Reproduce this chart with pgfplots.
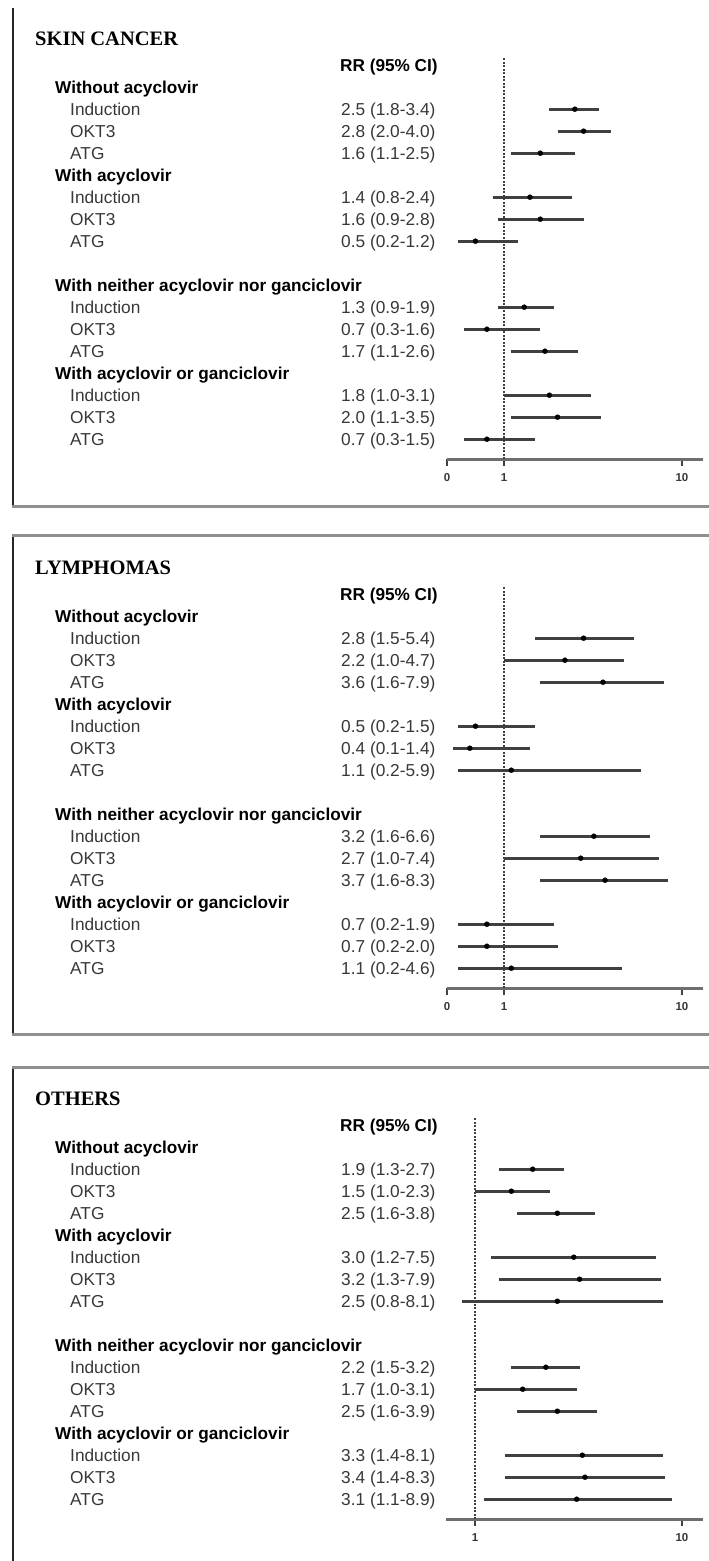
\documentclass[border=0pt]{standalone}
\usepackage{fontspec}
\setmainfont{Liberation Sans}
\newfontfamily\titlefont{Liberation Serif}
\usepackage{pgfplots}
\pgfplotsset{compat=1.18}

\definecolor{cibar}{HTML}{404040}
\definecolor{axgray}{HTML}{6E6E6E}
\definecolor{framegray}{HTML}{8F8F8F}
\definecolor{txt}{HTML}{383838}

% linear from 0 to 1, log from 1 up
\pgfplotsset{
  forest/.style={
    anchor=south west, clip=false,
    x coord trafo/.code={\pgfmathparse{0.32*(min(##1,1)-1)+ln(max(##1,1))/ln(10)}},
    y=22pt, ymin=0.1, ymax=18.36,
    enlargelimits=false,
    axis x line=bottom, axis y line=none,
    every outer x axis line/.append style={draw=axgray, line width=3pt, -},
    x axis line style={draw=axgray, line width=3pt, -},
    tick align=outside, major tick length=7pt,
    xtick style={draw=axgray!60!black, line width=1.4pt},
    xticklabel style={font=\fontsize{11.5}{13}\selectfont\bfseries, text=txt, yshift=-4pt},
  },
  ci/.style={draw=cibar, line width=2.7pt, no marks},
  rr/.style={only marks, mark=*, mark size=2.5pt, black},
  ref/.style={draw=black!75, line width=1.2pt, dash pattern=on 2pt off 1.5pt, no marks},
}

\begin{document}
\begin{tikzpicture}
\begin{scope}[x=1pt,y=-1pt]
\useasboundingbox (0,0) rectangle (709,1561);
\tikzset{
  ttl/.style={anchor=base west, inner sep=0pt, font=\titlefont\bfseries\fontsize{20.5}{24}\selectfont},
  hd/.style={anchor=base west, inner sep=0pt, font=\bfseries\fontsize{17.2}{20}\selectfont},
  it/.style={anchor=base west, inner sep=0pt, text=txt, font=\fontsize{17.3}{20}\selectfont},
}
% panel frames
\draw[black!85, line width=1.4pt] (13,8) -- (13,507);
\draw[framegray, line width=3pt] (12.3,506) -- (709,506);
\draw[black!85, line width=1.4pt] (13,535) -- (13,1035);
\draw[framegray, line width=3pt] (12.3,535.5) -- (709,535.5);
\draw[framegray, line width=3pt] (12.3,1034) -- (709,1034);
\draw[black!85, line width=1.4pt] (13,1067) -- (13,1561);
\draw[framegray, line width=3pt] (12.3,1067.5) -- (709,1067.5);

\foreach \oy/\tt in {0/SKIN CANCER, 529/LYMPHOMAS, 1060/OTHERS} {
  \node[ttl] at (35,45+\oy) {\tt};
  \node[hd] at (340,71+\oy) {RR (95\% CI)};
  \foreach \t/\p in {Without acyclovir/87, With acyclovir/175,
      With neither acyclovir nor ganciclovir/285, With acyclovir or ganciclovir/373}
    \node[hd] at (55,\p+6+\oy) {\t};
  \foreach \p in {109,197,307,395} {
    \node[it] at (70,\p+6+\oy) {Induction};
    \node[it] at (70,\p+28+\oy) {OKT3};
    \node[it] at (70,\p+50+\oy) {ATG};
  }
}
% RR (95% CI) columns
\foreach \p/\v in {109/2.5 (1.8-3.4), 131/2.8 (2.0-4.0), 153/1.6 (1.1-2.5),
    197/1.4 (0.8-2.4), 219/1.6 (0.9-2.8), 241/0.5 (0.2-1.2),
    307/1.3 (0.9-1.9), 329/0.7 (0.3-1.6), 351/1.7 (1.1-2.6),
    395/1.8 (1.0-3.1), 417/2.0 (1.1-3.5), 439/0.7 (0.3-1.5)}
  \node[it] at (341,\p+6) {\v};
\foreach \p/\v in {109/2.8 (1.5-5.4), 131/2.2 (1.0-4.7), 153/3.6 (1.6-7.9),
    197/0.5 (0.2-1.5), 219/0.4 (0.1-1.4), 241/1.1 (0.2-5.9),
    307/3.2 (1.6-6.6), 329/2.7 (1.0-7.4), 351/3.7 (1.6-8.3),
    395/0.7 (0.2-1.9), 417/0.7 (0.2-2.0), 439/1.1 (0.2-4.6)}
  \node[it] at (341,\p+6+529) {\v};
\foreach \p/\v in {109/1.9 (1.3-2.7), 131/1.5 (1.0-2.3), 153/2.5 (1.6-3.8),
    197/3.0 (1.2-7.5), 219/3.2 (1.3-7.9), 241/2.5 (0.8-8.1),
    307/2.2 (1.5-3.2), 329/1.7 (1.0-3.1), 351/2.5 (1.6-3.9),
    395/3.3 (1.4-8.1), 417/3.4 (1.4-8.3), 439/3.1 (1.1-8.9)}
  \node[it] at (341,\p+6+1060) {\v};
\end{scope}

% SKIN CANCER
\begin{axis}[forest, at={(447pt,-459pt)}, x=178pt, xmin=0, xmax=13.1,
  xtick={0,1,10}, xticklabels={0,1,10}]
\addplot[ref] coordinates {(1,0.1) (1,18.36)};
\addplot[ci] coordinates {(1.8,16) (3.4,16)};
\addplot[ci] coordinates {(2.0,15) (4.0,15)};
\addplot[ci] coordinates {(1.1,14) (2.5,14)};
\addplot[ci] coordinates {(0.8,12) (2.4,12)};
\addplot[ci] coordinates {(0.9,11) (2.8,11)};
\addplot[ci] coordinates {(0.2,10) (1.2,10)};
\addplot[ci] coordinates {(0.9,7) (1.9,7)};
\addplot[ci] coordinates {(0.3,6) (1.6,6)};
\addplot[ci] coordinates {(1.1,5) (2.6,5)};
\addplot[ci] coordinates {(1.0,3) (3.1,3)};
\addplot[ci] coordinates {(1.1,2) (3.5,2)};
\addplot[ci] coordinates {(0.3,1) (1.5,1)};
\addplot[rr] coordinates {(2.5,16) (2.8,15) (1.6,14) (1.4,12) (1.6,11) (0.5,10)
  (1.3,7) (0.7,6) (1.7,5) (1.8,3) (2.0,2) (0.7,1)};
\end{axis}

% LYMPHOMAS
\begin{axis}[forest, at={(447pt,-988pt)}, x=178pt, xmin=0, xmax=13.1,
  xtick={0,1,10}, xticklabels={0,1,10}]
\addplot[ref] coordinates {(1,0.1) (1,18.36)};
\addplot[ci] coordinates {(1.5,16) (5.4,16)};
\addplot[ci] coordinates {(1.0,15) (4.7,15)};
\addplot[ci] coordinates {(1.6,14) (7.9,14)};
\addplot[ci] coordinates {(0.2,12) (1.5,12)};
\addplot[ci] coordinates {(0.1,11) (1.4,11)};
\addplot[ci] coordinates {(0.2,10) (5.9,10)};
\addplot[ci] coordinates {(1.6,7) (6.6,7)};
\addplot[ci] coordinates {(1.0,6) (7.4,6)};
\addplot[ci] coordinates {(1.6,5) (8.3,5)};
\addplot[ci] coordinates {(0.2,3) (1.9,3)};
\addplot[ci] coordinates {(0.2,2) (2.0,2)};
\addplot[ci] coordinates {(0.2,1) (4.6,1)};
\addplot[rr] coordinates {(2.8,16) (2.2,15) (3.6,14) (0.5,12) (0.4,11) (1.1,10)
  (3.2,7) (2.7,6) (3.7,5) (0.7,3) (0.7,2) (1.1,1)};
\end{axis}

% OTHERS
\begin{axis}[forest, at={(446pt,-1519pt)}, x=207pt, xmin=0.5625, xmax=12.6,
  xtick={1,10}, xticklabels={1,10}]
\addplot[ref] coordinates {(1,0.1) (1,18.36)};
\addplot[ci] coordinates {(1.3,16) (2.7,16)};
\addplot[ci] coordinates {(1.0,15) (2.3,15)};
\addplot[ci] coordinates {(1.6,14) (3.8,14)};
\addplot[ci] coordinates {(1.2,12) (7.5,12)};
\addplot[ci] coordinates {(1.3,11) (7.9,11)};
\addplot[ci] coordinates {(0.8,10) (8.1,10)};
\addplot[ci] coordinates {(1.5,7) (3.2,7)};
\addplot[ci] coordinates {(1.0,6) (3.1,6)};
\addplot[ci] coordinates {(1.6,5) (3.9,5)};
\addplot[ci] coordinates {(1.4,3) (8.1,3)};
\addplot[ci] coordinates {(1.4,2) (8.3,2)};
\addplot[ci] coordinates {(1.1,1) (8.9,1)};
\addplot[rr] coordinates {(1.9,16) (1.5,15) (2.5,14) (3.0,12) (3.2,11) (2.5,10)
  (2.2,7) (1.7,6) (2.5,5) (3.3,3) (3.4,2) (3.1,1)};
\end{axis}
\end{tikzpicture}
\end{document}
